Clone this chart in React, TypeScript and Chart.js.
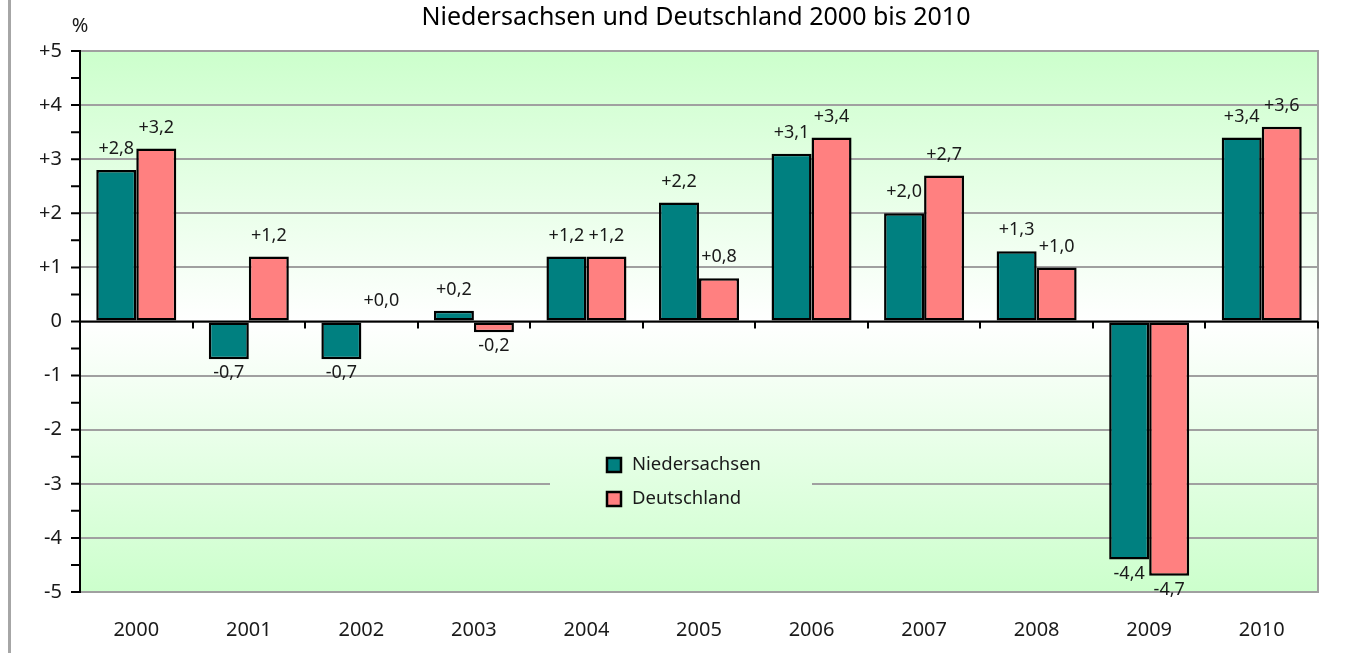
import React, { useEffect, useRef } from "react";
import { Chart, registerables } from "chart.js";

Chart.register(...registerables);

const categories = ["2000", "2001", "2002", "2003", "2004", "2005", "2006", "2007", "2008", "2009", "2010"];
const niedersachsen = [2.8, -0.7, -0.7, 0.2, 1.2, 2.2, 3.1, 2.0, 1.3, -4.4, 3.4];
const deutschland = [3.2, 1.2, 0.0, -0.2, 1.2, 0.8, 3.4, 2.7, 1.0, -4.7, 3.6];
const seriesNames = ["Niedersachsen", "Deutschland"];
const seriesColors = ["#008080", "#ff8080"];
const yMin = -5;
const yMax = 5;
const chartTitle = "Niedersachsen und Deutschland 2000 bis 2010";
const unitLabel = "%";

const FONT = "'Noto Sans', sans-serif";

const fmtTick = (v: number) => (v === 0 ? "0" : v > 0 ? "+" + v : String(v));
const fmtLabel = (v: number) => (v >= 0 ? "+" : "-") + Math.abs(v).toFixed(1).replace(".", ",");

function makeGradient(ctx: CanvasRenderingContext2D, top: number, zero: number, bottom: number) {
  const g = ctx.createLinearGradient(0, top, 0, bottom);
  const z = (zero - top) / (bottom - top);
  g.addColorStop(0, "#ccffcc");
  g.addColorStop(z, "#ffffff");
  g.addColorStop(1, "#ccffcc");
  return g;
}

const decorPlugin = {
  id: "decor",
  beforeDraw(chart: any) {
    const { ctx, chartArea, scales } = chart;
    const y = scales.y;
    ctx.save();
    ctx.fillStyle = "#ffffff";
    ctx.fillRect(0, 0, chart.width, chart.height);
    ctx.fillStyle = "#a6a6a6";
    ctx.fillRect(8, 0, 3, chart.height);
    ctx.fillStyle = makeGradient(ctx, chartArea.top, y.getPixelForValue(0), chartArea.bottom);
    ctx.fillRect(chartArea.left, chartArea.top, chartArea.right - chartArea.left, chartArea.bottom - chartArea.top);
    ctx.restore();
  },
  afterDatasetsDraw(chart: any) {
    const { ctx, chartArea, scales } = chart;
    const y = scales.y;
    const zeroY = y.getPixelForValue(0);
    ctx.save();

    ctx.strokeStyle = "#a0a0a0";
    ctx.lineWidth = 2;
    ctx.beginPath();
    ctx.moveTo(chartArea.right, chartArea.top - 1);
    ctx.lineTo(chartArea.right, chartArea.bottom + 1);
    ctx.stroke();

    ctx.strokeStyle = "#000000";
    ctx.lineWidth = 2;
    ctx.beginPath();
    ctx.moveTo(chartArea.left, zeroY);
    ctx.lineTo(chartArea.right, zeroY);
    ctx.stroke();
    const n = categories.length;
    const step = (chartArea.right - chartArea.left) / n;
    ctx.beginPath();
    for (let i = 1; i <= n; i++) {
      const px = Math.round(chartArea.left + i * step);
      ctx.moveTo(px, zeroY);
      ctx.lineTo(px, zeroY + 7);
    }
    ctx.stroke();

    ctx.beginPath();
    for (let v = yMin; v <= yMax + 1e-9; v += 0.5) {
      const py = y.getPixelForValue(v);
      ctx.moveTo(chartArea.left - 9, py);
      ctx.lineTo(chartArea.left, py);
    }
    ctx.stroke();

    ctx.fillStyle = "#1a1a1a";
    ctx.font = `18px ${FONT}`;
    ctx.textAlign = "center";
    ctx.textBaseline = "middle";
    chart.data.datasets.forEach((ds: any, di: number) => {
      const meta = chart.getDatasetMeta(di);
      meta.data.forEach((bar: any, i: number) => {
        const v = ds.data[i];
        const py = y.getPixelForValue(v);
        const ty = v >= 0 ? py - 21 : py + 14;
        ctx.fillText(fmtLabel(v), bar.x, ty);
      });
    });

    const lx = 550;
    const lw = 262;
    const ly = 440;
    const lh = 80;
    ctx.fillStyle = makeGradient(ctx, chartArea.top, zeroY, chartArea.bottom);
    ctx.fillRect(lx, ly, lw, lh);
    ctx.font = `18.5px ${FONT}`;
    ctx.textAlign = "left";
    ctx.textBaseline = "middle";
    seriesNames.forEach((name, i) => {
      const cy = 465 + i * 34;
      ctx.fillStyle = seriesColors[i];
      ctx.fillRect(607, cy - 7, 14, 14);
      ctx.strokeStyle = "#000";
      ctx.lineWidth = 2.5;
      ctx.strokeRect(607, cy - 7, 14, 14);
      ctx.fillStyle = "#1a1a1a";
      ctx.fillText(name, 632, cy);
    });

    ctx.fillStyle = "#000";
    ctx.font = `25px ${FONT}`;
    ctx.textAlign = "center";
    ctx.fillText(chartTitle, 696, 18);
    ctx.fillStyle = "#1a1a1a";
    ctx.font = `20px ${FONT}`;
    ctx.fillText(unitLabel, 80, 26);
    ctx.restore();
  },
};

export default function App() {
  const ref = useRef<HTMLCanvasElement | null>(null);
  useEffect(() => {
    if (!ref.current) return;
    const mkDs = (i: number, data: number[]) => ({
      label: seriesNames[i],
      data,
      backgroundColor: seriesColors[i],
      borderColor: "#000",
      borderWidth: 2.5,
      borderSkipped: false,
      categoryPercentage: 0.711,
      barPercentage: 1,
    });
    const chart = new Chart(ref.current, {
      type: "bar",
      data: {
        labels: categories,
        datasets: [mkDs(0, niedersachsen), mkDs(1, deutschland)],
      },
      options: {
        responsive: false,
        animation: false,
        layout: { padding: { left: 0, top: 51, right: 32, bottom: 0 } },
        plugins: {
          legend: { display: false },
          title: { display: false },
          tooltip: { enabled: false },
        },
        scales: {
          x: {
            grid: { display: false, drawTicks: false },
            border: { display: false },
            ticks: { color: "#1a1a1a", font: { family: FONT, size: 20 }, padding: 26, maxRotation: 0 },
            afterFit: (s: any) => {
              s.height = 61;
            },
          },
          y: {
            min: yMin,
            max: yMax,
            grid: { color: "#a0a0a0", lineWidth: 2, drawTicks: false },
            border: { color: "#000", width: 2 },
            ticks: {
              stepSize: 1,
              color: "#1a1a1a",
              font: { family: FONT, size: 20 },
              padding: 18,
              callback: (v: any) => fmtTick(Number(v)),
            },
            afterFit: (s: any) => {
              s.width = 80;
            },
          },
        },
      },
      plugins: [decorPlugin],
    });
    return () => chart.destroy();
  }, []);
  return (
    <div style={{ position: "fixed", left: 0, top: 0, width: 1350, height: 653 }}>
      <canvas ref={ref} width={1350} height={653} />
    </div>
  );
}
